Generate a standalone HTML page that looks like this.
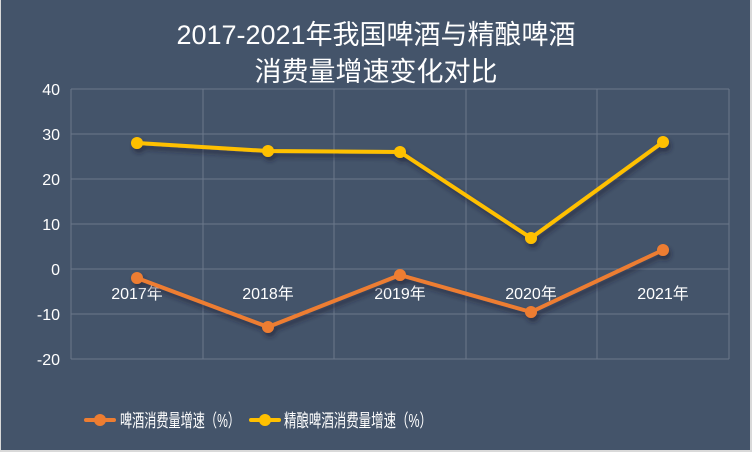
<!DOCTYPE html>
<html><head><meta charset="utf-8"><style>
html,body{margin:0;padding:0;background:#fff;}
svg{display:block;}
text{font-family:"Liberation Sans","Noto Sans CJK SC",sans-serif;}
</style></head><body>
<svg width="752" height="465" viewBox="0 0 752 465" xmlns="http://www.w3.org/2000/svg">
<defs><filter id="sh" x="-10%" y="-10%" width="120%" height="130%"><feDropShadow dx="2" dy="4" stdDeviation="2.5" flood-color="#1a2230" flood-opacity="0.6"/></filter></defs>
<rect x="0" y="0" width="752" height="452" fill="#d9d9d9"/>
<rect x="1" y="0" width="749" height="450" fill="#44546a"/>
<text x="376" y="44" fill="#fff" font-size="27" text-anchor="middle">2017-2021年我国啤酒与精酿啤酒</text>
<text x="376" y="81" fill="#fff" font-size="27" text-anchor="middle">消费量增速变化对比</text>
<g stroke="#6b788b" stroke-width="1">
<line x1="71" y1="89" x2="729" y2="89"/><line x1="71" y1="134" x2="729" y2="134"/><line x1="71" y1="179" x2="729" y2="179"/><line x1="71" y1="224" x2="729" y2="224"/><line x1="71" y1="269" x2="729" y2="269"/><line x1="71" y1="314" x2="729" y2="314"/><line x1="71" y1="359" x2="729" y2="359"/>
<line x1="71" y1="89" x2="71" y2="359"/><line x1="203" y1="89" x2="203" y2="359"/><line x1="334" y1="89" x2="334" y2="359"/><line x1="466" y1="89" x2="466" y2="359"/><line x1="597" y1="89" x2="597" y2="359"/><line x1="729" y1="89" x2="729" y2="359"/>
</g>
<g fill="#fff" font-size="16" text-anchor="end">
<text x="60" y="95">40</text><text x="60" y="140">30</text><text x="60" y="185">20</text><text x="60" y="230">10</text><text x="60" y="275">0</text><text x="60" y="320">-10</text><text x="60" y="365">-20</text>
</g>
<g fill="#fff" font-size="16" text-anchor="middle">
<text x="137" y="299">2017年</text><text x="268" y="299">2018年</text><text x="400" y="299">2019年</text><text x="531" y="299">2020年</text><text x="663" y="299">2021年</text>
</g>
<g filter="url(#sh)">
<polyline points="137,143 268,151 400,152 531,238 663,142" fill="none" stroke="#ffc000" stroke-width="4" stroke-linejoin="round"/>
<g fill="#ffc000"><circle cx="137" cy="143" r="6"/><circle cx="268" cy="151" r="6"/><circle cx="400" cy="152" r="6"/><circle cx="531" cy="238" r="6"/><circle cx="663" cy="142" r="6"/></g>
<polyline points="137,278 268,327 400,275 531,312 663,250" fill="none" stroke="#ed7d31" stroke-width="4" stroke-linejoin="round"/>
<g fill="#ed7d31"><circle cx="137" cy="278" r="6"/><circle cx="268" cy="327" r="6"/><circle cx="400" cy="275" r="6"/><circle cx="531" cy="312" r="6"/><circle cx="663" cy="250" r="6"/></g>
</g>
<line x1="86" y1="420" x2="114" y2="420" stroke="#ed7d31" stroke-width="4" stroke-linecap="round"/><circle cx="100" cy="420" r="6" fill="#ed7d31"/>
<text x="120" y="427" fill="#fff" font-size="18" textLength="120" lengthAdjust="spacingAndGlyphs">啤酒消费量增速（%）</text>
<line x1="251" y1="420" x2="279" y2="420" stroke="#ffc000" stroke-width="4" stroke-linecap="round"/><circle cx="265" cy="420" r="6" fill="#ffc000"/>
<text x="284" y="427" fill="#fff" font-size="18" textLength="148" lengthAdjust="spacingAndGlyphs">精酿啤酒消费量增速（%）</text>
</svg>
</body></html>
